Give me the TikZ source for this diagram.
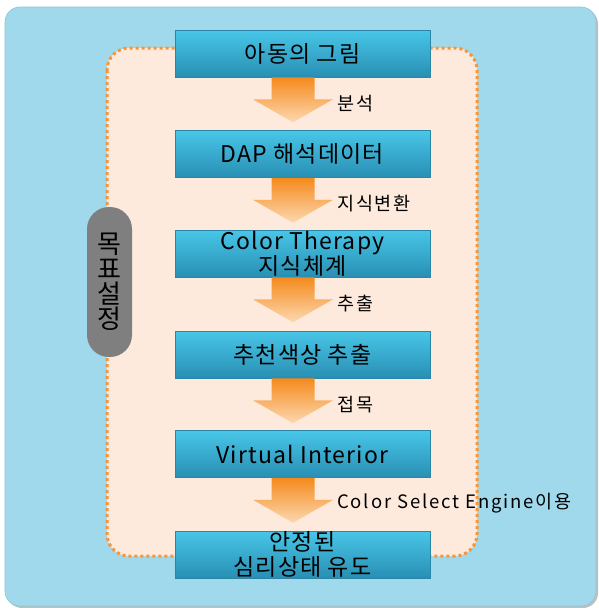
\documentclass[tikz,border=0pt]{standalone}
\usepackage{fontspec}
\setmainfont{Noto Sans CJK KR}
\newfontfamily\boxfont[LetterSpace=5]{Noto Sans CJK KR}
\newfontfamily\labfont[LetterSpace=10]{Noto Sans CJK KR}
\usetikzlibrary{calc}
\definecolor{outerblue}{HTML}{A0D9EB}
\definecolor{outeredge}{HTML}{8CC4D6}
\definecolor{peach}{HTML}{FDEADD}
\definecolor{dotorange}{HTML}{F7953A}
\definecolor{boxtop}{HTML}{48C6E8}
\definecolor{boxbot}{HTML}{288FB3}
\definecolor{boxedge}{HTML}{2A86A6}
\definecolor{arrtop}{HTML}{F58A1C}
\definecolor{arrbot}{HTML}{FCD8B0}
\definecolor{pillgray}{HTML}{7F7F7F}
\tikzset{
  stepbox/.style={draw=boxedge, line width=0.6pt, top color=boxtop, bottom color=boxbot,
    minimum width=255pt, minimum height=47pt, inner sep=0pt, align=center,
    font=\boxfont\fontsize{23}{25}\selectfont, text=black},
  arrlabel/.style={anchor=west, inner sep=0pt, font=\labfont\fontsize{18.5}{20}\selectfont, text=black},
}
\newcommand\blockarrow[2]{%
  \coordinate (#2) at ($(#1.south)+(-9.5,0)$);
  \shade[top color=arrtop, bottom color=arrbot]
    ($(#2)+(-21.5,0)$) -- ($(#2)+(21.5,0)$) -- ($(#2)+(21.5,22)$) -- ($(#2)+(40,22)$)
    -- ($(#2)+(0,45)$) -- ($(#2)+(-40,22)$) -- ($(#2)+(-21.5,22)$) -- cycle;
}
\begin{document}
\begin{tikzpicture}[x=1pt,y=-1pt]
\useasboundingbox (0,0) rectangle (598,608);
% outer panel
\fill[black!25, rounded corners=15pt] (7,9) rectangle (598,608);
\draw[outeredge, fill=outerblue, rounded corners=15pt, line width=0.6pt] (5,7) rectangle (596,606);
% dotted goal region
\draw[dotorange, fill=peach, rounded corners=22pt, line width=3pt, dash pattern=on 3pt off 3pt]
  (107,48) rectangle (477,556);
% pill
\node[fill=pillgray, rounded corners=22pt, minimum width=45pt, minimum height=150pt, inner sep=0pt,
  align=center, font=\fontsize{26}{25}\selectfont, text=black] (goal) at (109.5,282) {목\\표\\설\\정};
% boxes
\node[stepbox] (b1) at (302.5,53.5) {아동의 그림};
\node[stepbox] (b2) at (302.5,154) {DAP 해석데이터};
\node[stepbox] (b3) at (302.5,253.5) {Color Therapy\\지식체계};
\node[stepbox] (b4) at (302.5,354.5) {추천색상 추출};
\node[stepbox] (b5) at (302.5,454) {Virtual Interior};
% arrows
\blockarrow{b1}{a1}
\blockarrow{b2}{a2}
\blockarrow{b3}{a3}
\blockarrow{b4}{a4}
\blockarrow{b5}{a5}
\node[stepbox] (b6) at (302.5,554.5) {안정된\\심리상태 유도};
% labels
\node[arrlabel] (l1) at ($(a1)+(44,26)$) {분석};
\node[arrlabel] (l2) at ($(a2)+(44,26)$) {지식변환};
\node[arrlabel] (l3) at ($(a3)+(44,26)$) {추출};
\node[arrlabel] (l4) at ($(a4)+(44,26)$) {접목};
\node[arrlabel] (l5) at ($(a5)+(44,25)$) {Color Select Engine이용};
\end{tikzpicture}
\end{document}
